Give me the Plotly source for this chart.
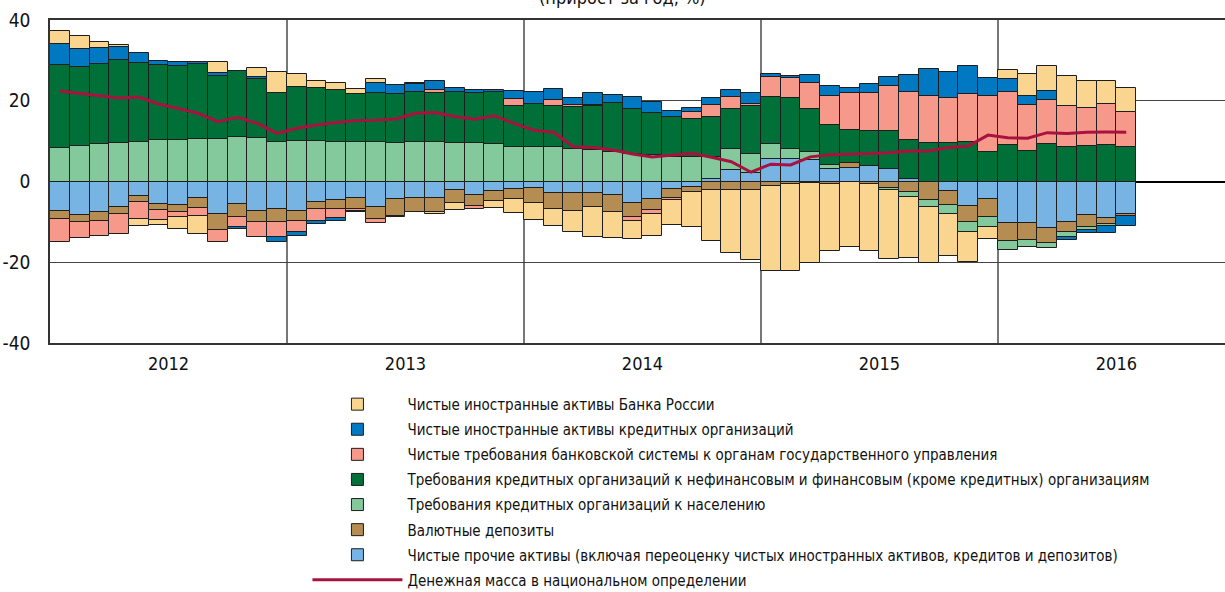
import plotly.graph_objects as go

years = ["2012", "2013", "2014", "2015", "2016"]
n_months = 55  # Jan 2012 .. Jul 2016
y_ticks = [-40, -20, 0, 20, 40]
y_ticktext = ["-40", "-20", "0", "20", "40"]

# Net foreign assets of the Bank of Russia
cbr_nfa = [3.45, 3.2, 1.55, 0.5, -1.6, -1.2, -3.05, -4.3, 2.9, 0.0, 2.4, 5.2,
           3.4, 1.7, 1.7, 1.2, 1.2, -0.3, 0.3, -0.6, -1.8, 0.0, -1.65, -3.3,
           -4.2, -4.0, -5.0, -7.3, -6.4, -4.5, -5.3, -6.2, -8.6, -12.7, -15.4, -17.4,
           -21.2, -21.6, -20.0, -16.6, -16.2, -16.7, -16.9, -15.1, -14.0, -10.5, -7.3, -3.1,
           2.05, 5.45, 6.2, 7.4, 6.6, 5.75, 6.0]
# Net foreign assets of credit institutions
ci_nfa = [5.2, 4.45, 3.95, 3.2, 2.55, 1.0, 1.15, 0.5, 0.7, -0.5, 0.5, -1.15,
          -0.8, -0.75, -0.65, -0.35, 2.5, 2.3, 2.0, 2.3, 1.0, 0.8, 0.6, 1.9,
          2.8, 2.6, 1.75, 3.1, 2.15, 3.0, 2.6, 1.35, 1.0, 1.9, 1.65, 2.5,
          0.8, 0.4, 1.9, 2.6, 1.3, 2.15, 2.4, 4.35, 6.75, 6.4, 6.9, 4.3,
          3.4, 2.25, 2.1, -0.8, -0.8, -1.8, -2.5]
# Net claims of the banking system on general government
gov_claims = [-5.6, -4.1, -3.8, -4.8, -4.4, -2.6, -1.3, -2.1, -2.9, -2.5, -3.7, -3.7,
              -2.9, -2.9, -2.3, -0.5, -1.0, 0.0, 0.0, 0.9, 0.0, -0.7, 0.0, 1.8,
              0.0, 1.7, 0.6, 0.3, 0.0, -0.9, -1.1, -0.65, 1.7, 2.95, 3.1, 0.5,
              4.8, 5.05, 6.6, 7.2, 9.0, 9.4, 11.1, 11.85, 11.65, 11.15, 11.85, 14.1,
              13.1, 11.4, 10.85, 10.35, 9.5, 10.15, 8.55]
# Claims of credit institutions on non-financial and financial organisations
corp_loans = [20.35, 19.4, 19.8, 20.5, 19.35, 18.6, 18.3, 18.5, 15.6, 16.3, 14.45, 12.1,
              13.2, 13.25, 12.8, 11.8, 12.1, 12.0, 12.35, 11.95, 12.65, 12.35, 12.8, 10.1,
              10.7, 10.15, 10.25, 10.8, 12.05, 11.1, 10.45, 9.95, 9.45, 9.75, 9.85, 12.0,
              11.7, 12.6, 10.6, 9.9, 8.3, 8.6, 9.3, 9.7, 9.45, 9.45, 9.85, 7.2,
              8.95, 7.6, 9.35, 8.45, 8.8, 9.1, 8.55]
# Claims of credit institutions on households
hh_loans = [8.4, 8.9, 9.2, 9.5, 9.9, 10.2, 10.2, 10.5, 10.5, 11.0, 10.85, 9.7,
            10.1, 9.95, 9.8, 9.8, 9.7, 9.6, 9.85, 9.85, 9.45, 9.45, 9.3, 8.6,
            8.6, 8.45, 8.15, 7.8, 7.3, 6.8, 6.55, 6.15, 6.15, 5.55, 5.2, 4.6,
            3.8, 2.6, 2.0, 1.0, 0.0, 0.0, -0.7, -1.25, -1.75, -2.1, -2.6, -2.5,
            -2.15, -1.7, -1.3, -1.1, -0.8, -0.5, 0.0]
# Foreign currency deposits
fx_deposits = [-2.15, -1.6, -2.2, -1.9, -1.3, -1.5, -1.65, -2.3, -3.9, -3.05, -2.8, -3.3,
               -2.5, -1.9, -2.1, -2.8, -3.1, -4.2, -3.4, -3.5, -3.1, -2.7, -2.4, -2.5,
               -3.7, -4.1, -4.5, -3.5, -4.2, -3.6, -2.6, -2.1, -1.3, -2.1, -2.2, -2.1,
               -1.0, -0.5, -0.3, -0.7, 1.2, -0.5, -1.5, -2.7, -4.5, -3.4, -3.9, -4.3,
               -4.3, -4.0, -3.7, -2.5, -2.8, -1.4, -0.5]
# Net other assets
other_assets = [-7.2, -8.4, -7.5, -6.2, -3.7, -5.5, -5.8, -4.2, -8.1, -5.65, -7.3, -6.8,
                -7.2, -5.0, -4.7, -4.0, -6.2, -4.4, -4.2, -4.0, -2.1, -3.3, -2.4, -1.9,
                -1.7, -2.8, -2.9, -2.9, -3.4, -5.2, -4.4, -1.9, -1.4, 0.6, 2.85, 2.2,
                5.5, 5.5, 5.3, 3.0, 3.3, 3.9, 3.2, 0.6, 0.0, -2.45, -6.1, -4.4,
                -10.4, -10.4, -11.5, -10.1, -8.4, -9.1, -8.0]
# Money supply (M2), national definition
m2 = [22.4, 21.8, 21.2, 20.7, 20.9, 19.2, 18.1, 16.9, 14.8, 15.9, 14.4, 11.9,
      13.2, 14.0, 14.6, 15.1, 15.2, 15.5, 16.9, 17.1, 16.1, 15.4, 16.3, 14.4,
      12.7, 12.2, 8.6, 8.4, 7.8, 6.8, 6.1, 6.6, 7.0, 6.0, 4.9, 2.3,
      4.3, 4.1, 6.1, 6.6, 6.8, 6.9, 7.1, 7.55, 7.55, 8.4, 8.8, 11.5,
      10.85, 10.7, 12.1, 11.9, 12.2, 12.25, 12.2]

names = {
    "cbr": "Чистые иностранные активы Банка России",
    "ci": "Чистые иностранные активы кредитных организаций",
    "gov": "Чистые требования банковской системы к органам государственного управления",
    "corp": "Требования кредитных организаций к нефинансовым и финансовым (кроме кредитных) организациям",
    "hh": "Требования кредитных организаций к населению",
    "fx": "Валютные депозиты",
    "oth": "Чистые прочие активы (включая переоценку чистых иностранных активов, кредитов и депозитов)",
    "m2": "Денежная масса в национальном определении",
}

x = list(range(n_months))
FONT = "DejaVu Sans Condensed"

# trace order defines stacking; legendrank defines the legend order
series = [
    ("oth", other_assets, "#77B4E3", 7),
    ("fx", fx_deposits, "#B58C51", 6),
    ("hh", hh_loans, "#84C99C", 5),
    ("corp", corp_loans, "#006F38", 4),
    ("gov", gov_claims, "#F6998A", 3),
    ("ci", ci_nfa, "#0079C2", 2),
    ("cbr", cbr_nfa, "#F9D590", 1),
]

fig = go.Figure()
for key, vals, color, rank in series:
    fig.add_trace(go.Bar(
        x=x, y=[v if v != 0 else None for v in vals], name=names[key],
        legendrank=rank, legendgroup=key,
        marker=dict(color=color, line=dict(color="#1e1e1e", width=1)),
        width=1.0,
    ))

fig.add_trace(go.Scatter(
    x=x, y=m2, name=names["m2"], legendrank=8, legendgroup="m2", mode="lines",
    line=dict(color="#A8123E", width=3),
))

year_centers = [12 * i + 5.5 for i in range(len(years))]
year_bounds = [12 * i + 11.5 for i in range(len(years) - 1)]

fig.update_layout(
    width=1225, height=592,
    margin=dict(l=50, r=0, t=20, b=249, autoexpand=False),
    barmode="relative", bargap=0,
    plot_bgcolor="white", paper_bgcolor="white",
    font=dict(family=FONT, color="#111", size=15),
    showlegend=True,
    legend=dict(
        orientation="v", x=0.2191, xanchor="left", y=-0.139, yanchor="top",
        font=dict(family=FONT, size=15, color="#111"),
        itemwidth=90, tracegroupgap=2.6, bgcolor="rgba(0,0,0,0)",
    ),
    xaxis=dict(
        range=[-0.5, 59.0], tickmode="array", tickvals=year_centers, ticktext=years,
        showgrid=False, zeroline=False, ticks="", ticklabelstandoff=4,
        showline=True, linecolor="#333", linewidth=1.5, mirror=True,
        tickfont=dict(family=FONT, size=18, color="#111"),
        minor=dict(tickmode="array", tickvals=year_bounds, showgrid=True,
                   gridcolor="#777", gridwidth=1.5, ticks=""),
    ),
    yaxis=dict(
        range=[-40, 40], tickmode="array", tickvals=y_ticks, ticktext=y_ticktext,
        showgrid=True, gridcolor="#444", gridwidth=1,
        zeroline=True, zerolinecolor="#000", zerolinewidth=1.5,
        showline=True, linecolor="#333", linewidth=1.5,
        ticks="", ticklabelstandoff=14,
        tickfont=dict(family=FONT, size=19, color="#111"),
    ),
    annotations=[dict(
        text="(прирост за год, %)", xref="paper", yref="paper",
        x=0.487, y=1.032, xanchor="center", yanchor="bottom", showarrow=False,
        font=dict(family=FONT, size=18, color="#111"),
    )],
)

fig.write_html("out.html", config={"displayModeBar": False},
               post_script="document.body.style.margin='0';")
